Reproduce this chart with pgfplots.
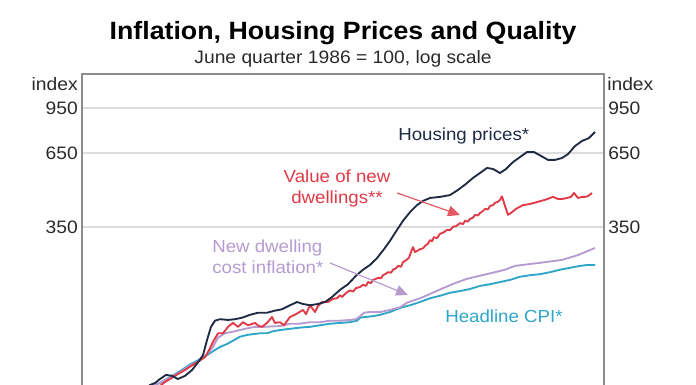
\documentclass[border=0pt]{standalone}
\usepackage{fontspec}
\setmainfont[FakeStretch=1.07]{Liberation Sans}
\usepackage{pgfplots}
\pgfplotsset{compat=1.18}
\usetikzlibrary{arrows.meta}
\definecolor{hnavy}{HTML}{1F2A44}
\definecolor{hred}{HTML}{E03A46}
\definecolor{hpurp}{HTML}{B59BD0}
\definecolor{hteal}{HTML}{2EA6C8}
\definecolor{gridgray}{HTML}{DCDCDC}
\definecolor{axgray}{HTML}{8C8C8C}
\definecolor{txtgray}{HTML}{2A2A2A}
\begin{document}
\begin{tikzpicture}
\useasboundingbox (0,0) rectangle (522pt,-288.75pt);
\begin{axis}[at={(61.5pt,-55.5pt)}, anchor=north west, scale only axis,
  width=391.5pt, height=235.5pt, ymode=log,
  xmin=82, xmax=604, ymin=90.3, ymax=1264.2,
  xtick=\empty, ytick={350,650,950}, yticklabels={350,650,950},
  yminorticks=false, major tick length=0pt,
  ymajorgrids, grid style={draw=gridgray, line width=1.1pt},
  axis line style={draw=axgray, line width=0.8pt},
  yticklabel style={font=\fontsize{13.5}{15}\selectfont, text=txtgray, inner xsep=0pt, xshift=-3pt},
  /pgf/number format/assume math mode=true,
  every axis plot/.append style={line width=1.4pt, line join=round},
  clip=true]
% Headline CPI
\addplot[hteal] coordinates {
(140,88)(150,91.9)(160,94.2)(170,99.1)(180,104)(190,110)(200,115)(207,119)(213,123)
(220,127.5)(227,130.7)(234,135)(240,139)(247,141)(253,142)(260,143)(267,143)(273,145.5)
(280,147)(290,148.5)(300,150)(310,151)(320,153)(330,155)(340,156)(350,157)(357,159)
(360,163)(365,164)(372,165)(380,167)(390,171)(400,177)(410,181)(420,186)(430,192)
(440,196)(450,201)(460,204)(470,207.5)(480,213)(490,216)(500,220)(510,224)(520,230)
(530,233)(540,235)(550,239)(560,244)(570,248)(580,252)(588,254)(595,254)};
% New dwelling cost inflation
\addplot[hpurp] coordinates {
(140,88)(150,91.9)(160,94.2)(170,99.1)(180,103)(190,109)(200,114)(207,120)(213,127.5)
(218,138)(225,143)(235,145.5)(245,148.5)(255,151)(265,151)(280,152)(290,155)(300,155)
(310,157)(320,157)(330,159)(340,159)(350,160)(356,161)(360,165)(364,170)(370,171)
(380,171)(390,174)(400,178)(407,185)(420,192)(430,199)(443,209)(455,218)(467,226)
(480,232)(495,239)(505,244)(515,252)(530,256)(545,260)(562,265)(578,276)(595,293)};
% Value of new dwellings
\addplot[hred] coordinates {
(150,86.6)(160,91.9)(165,95)(170,97.4)(175,100)(180,102.5)(185,105)(190,108)(197,112)
(205,117)(209,124)(213,133)(218,143)(223,143)(228,151)(233,156)(238,151)(243,157)
(248,153)(255,156)(259,152)(262,151)(267,156)(272,164)(275,156)(280,157)(284,153)
(290,164)(296,168)(303,174)(306,168)(310,181)(315,171)(318,180)(322,186)(328,186)
(333,191)(337,192)(340,197)(342,194)(345,199)(347,202)(350,205)(353,203)(356,209)
(360,211)(363,215)(366,213)(368,220)(371,218)(373,224)(376,226)(378,228)(381,227)
(383,233)(386,236)(388,239)(391,238)(393,244)(396,247)(398,252)(401,250)(403,260)
(406,264)(409,270)(411,283)(413,295)(415,283)(418,287)(420,290)(423,292)(425,298)
(428,304)(430,313)(432,310)(434,321)(437,318)(440,330)(443,333)(447,341)(450,340)
(453,350)(456,352)(460,361)(463,358)(465,368)(468,366)(470,374)(473,378)(475,387)
(478,385)(480,393)(483,400)(485,407)(488,405)(490,417)(493,420)(495,428)(498,432)
(500,439)(502,452)(505,417)(508,387)(512,396)(516,407)(523,420)(530,424)(537,431)
(545,439)(553,450)(558,442)(562,442)(567,446)(571,450)(574,465)(578,446)(582,450)
(585,450)(588,453)(592,465)};
% Housing prices
\addplot[hnavy] coordinates {
(140,86.6)(150,92.6)(155,94.2)(160,97.4)(166,100.8)(172,100)(178,97.4)(185,100)(192,105)
(198,112)(203,119)(207,135)(211,151)(215,159)(220,161)(228,160)(235,161)(242,163)
(250,167)(258,170)(267,170)(275,173)(282,175)(290,181)(297,186)(303,183)(310,181)
(318,183)(325,186)(332,194)(340,206)(348,216)(356,232)(363,244)(370,254)(377,269)
(384,290)(390,311)(397,341)(403,368)(410,396)(417,420)(423,435)(430,446)(440,450)
(450,457)(458,477)(466,502)(473,528)(480,550)(487,574)(493,569)(500,550)(506,569)
(513,603)(520,629)(527,656)(534,656)(541,635)(548,614)(555,614)(562,624)(568,645)
(575,690)(582,720)(589,738)(595,777)};
\end{axis}
\begin{axis}[at={(61.5pt,-55.5pt)}, anchor=north west, scale only axis,
  width=391.5pt, height=235.5pt, ymode=log,
  xmin=82, xmax=604, ymin=90.3, ymax=1264.2,
  xtick=\empty, ytick={350,650,950}, yticklabels={350,650,950},
  yminorticks=false, major tick length=0pt,
  axis line style={draw=none}, yticklabel pos=right,
  yticklabel style={font=\fontsize{13.5}{15}\selectfont, text=txtgray, inner xsep=0pt, xshift=3pt},
  /pgf/number format/assume math mode=true]
\end{axis}
\begin{scope}[x=0.75pt, y=-0.75pt, every node/.style={inner sep=0pt, font=\fontsize{13.1}{15}\selectfont}]
\node[anchor=base, text=black, font=\bfseries\fontsize{18.75}{22}\selectfont] at (343,40) {Inflation, Housing Prices and Quality};
\node[anchor=base, text=txtgray, font=\fontsize{13.5}{16}\selectfont] at (343,64) {June quarter 1986 = 100, log scale};
\node[anchor=base east, text=txtgray, font=\fontsize{13.5}{16}\selectfont] at (78,90) {index};
\node[anchor=base west, text=txtgray, font=\fontsize{13.5}{16}\selectfont] at (607,90) {index};
\node[anchor=base west, text=hnavy] at (398,140) {Housing prices*};
\node[anchor=base, text=hred] at (337,182) {Value of new};
\node[anchor=base, text=hred] at (337,203) {dwellings**};
\node[anchor=base west, text=hpurp] at (212,252) {New dwelling};
\node[anchor=base west, text=hpurp] at (212,273) {cost inflation*};
\node[anchor=base west, text=hteal] at (445,322) {Headline CPI*};
\draw[hred!85, line width=0.9pt, -{Triangle[length=9pt,width=8pt]}] (397,193) -- (460,215);
\draw[hpurp, line width=0.9pt, -{Triangle[length=9pt,width=8pt]}] (330,263) -- (408,295);
\end{scope}
\end{tikzpicture}
\end{document}
